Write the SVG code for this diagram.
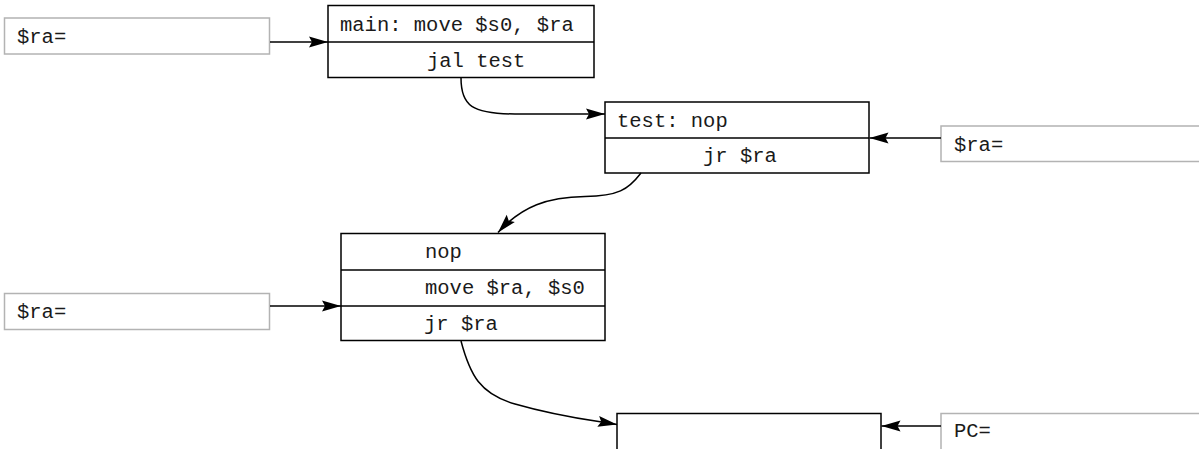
<svg xmlns="http://www.w3.org/2000/svg" width="1199" height="449" viewBox="0 0 1199 449">
<style>
.reg{fill:#fff;stroke:#b3b3b3;stroke-width:1.5}
.blk{fill:#fff;stroke:#000;stroke-width:1.5}
.div{stroke:#000;stroke-width:1.5;fill:none}
text{font-family:"Liberation Mono","Courier New",monospace;font-size:20.5px;fill:#1a1a1a}
.edge{fill:none;stroke:#000;stroke-width:1.5}
</style>
<defs>
<marker id="ah" markerUnits="userSpaceOnUse" markerWidth="20" markerHeight="12" refX="19" refY="5.5" orient="auto" overflow="visible">
<path d="M0,0 L19,5.5 L0,11 L3,5.5 z" fill="#000"/>
</marker>
</defs>
<rect width="1199" height="449" fill="#fff"/>
<g id="reg1"><rect class="reg" x="4.5" y="18" width="265" height="36"/><text x="17" y="43">$ra=</text></g>
<g id="main"><rect class="blk" x="328" y="5.5" width="266" height="72"/><line class="div" x1="328" y1="42" x2="594" y2="42"/><text x="340" y="31">main: move $s0, $ra</text><text x="427" y="67">jal test</text></g>
<g id="test"><rect class="blk" x="605" y="102" width="264" height="71"/><line class="div" x1="605" y1="138" x2="869" y2="138"/><text x="617" y="127">test: nop</text><text x="703" y="162">jr $ra</text></g>
<g id="reg2"><rect class="reg" x="941" y="126" width="270" height="35.5"/><text x="954" y="151">$ra=</text></g>
<g id="ret"><rect class="blk" x="341" y="233.5" width="264" height="107"/><line class="div" x1="341" y1="270" x2="605" y2="270"/><line class="div" x1="341" y1="306" x2="605" y2="306"/><text x="425" y="258">nop</text><text x="425" y="294">move $ra, $s0</text><text x="424" y="330">jr $ra</text></g>
<g id="reg3"><rect class="reg" x="4.5" y="293.5" width="265" height="36"/><text x="17" y="318">$ra=</text></g>
<g id="end"><rect class="blk" x="617" y="413.5" width="264" height="50"/></g>
<g id="pc"><rect class="reg" x="941" y="413.5" width="270" height="50"/><text x="954" y="437">PC=</text></g>
<g id="edges">
<path class="edge" d="M270,42 L328,42" marker-end="url(#ah)"/>
<path class="edge" d="M461,78 C461,106 472,113.5 515,114 L605,114" marker-end="url(#ah)"/>
<path class="edge" d="M941,138 L869.5,138" marker-end="url(#ah)"/>
<path class="edge" d="M641,173 C628,190 618,196 585,196.5 C548,197 522,206 498,232.5" marker-end="url(#ah)"/>
<path class="edge" d="M270,306 L341,306" marker-end="url(#ah)"/>
<path class="edge" d="M461,341 C470,375 480,394 515,404 C560,417 590,420 617,424.5" marker-end="url(#ah)"/>
<path class="edge" d="M941,426 L881.5,426" marker-end="url(#ah)"/>
</g>
</svg>
